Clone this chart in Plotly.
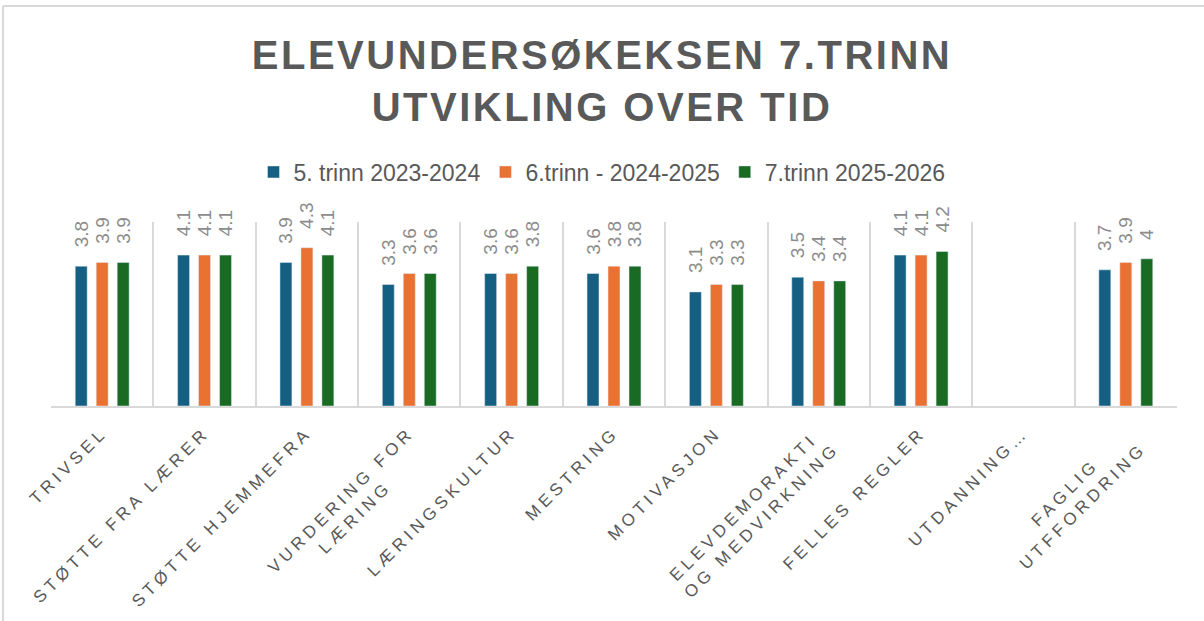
import plotly.graph_objects as go

NB = "\u00a0"
categories = [
    "TRIVSEL", "STØTTE FRA LÆRER", "STØTTE HJEMMEFRA", "VURDERING FOR<br>LÆRING" + NB * 6,
    "LÆRINGSKULTUR", "MESTRING", "MOTIVASJON", "ELEVDEMORAKTI" + NB + "<br>OG MEDVIRKNING",
    "FELLES REGLER", "UTDANNING…", "FAGLIG" + NB * 5 + "<br>UTFFORDRING",
]
series_names = ["5. trinn 2023-2024", "6.trinn - 2024-2025", "7.trinn 2025-2026"]
trinn5 = [3.8, 4.1, 3.9, 3.3, 3.6, 3.6, 3.1, 3.5, 4.1, None, 3.7]
trinn6 = [3.9, 4.1, 4.3, 3.6, 3.6, 3.8, 3.3, 3.4, 4.1, None, 3.9]
trinn7 = [3.9, 4.1, 4.1, 3.6, 3.8, 3.8, 3.3, 3.4, 4.2, None, 4.0]
colors = ["#156082", "#E97132", "#196B24"]

W, H = 1204, 621
ML, MR, MT, MB = 51, 27, 222, 215

fig = go.Figure()
for name, vals, col in zip(series_names, [trinn5, trinn6, trinn7], colors):
    fig.add_trace(go.Bar(
        x=categories, y=vals, name=name, marker_color=col,
        text=[(NB * 3 + f"{v:g}") if v is not None else "" for v in vals],
        textposition="outside", textangle=-90, constraintext="none",
        textfont=dict(family="Liberation Sans", size=19, color="#8c8c8c"),
        cliponaxis=False, hoverinfo="skip",
    ))

pw = W - ML - MR
ph = H - MT - MB
def px_x(x):
    return (x - ML) / pw
def px_y(y):
    return (H - MB - y) / ph

fig.update_layout(
    width=W, height=H,
    margin=dict(l=ML, r=MR, t=MT, b=MB, autoexpand=False),
    paper_bgcolor="white", plot_bgcolor="white",
    barmode="group", bargap=0.385, bargroupgap=0.43,
    title=dict(
        text="ELEVUNDERSØKEKSEN 7.TRINN<br>UTVIKLING OVER TID",
        x=0.5, xref="container", xanchor="center",
        y=1 - 69 / H, yref="container", yanchor="middle",
        font=dict(family="Liberation Sans", size=40, color="#595959", weight="bold"),
    ),
    legend=dict(
        orientation="h", x=0.5, xanchor="center", xref="container",
        y=px_y(172), yanchor="middle",
        font=dict(family="Liberation Sans", size=23, color="#595959"),
        traceorder="normal",
    ),
    xaxis=dict(
        type="category", range=[-0.5, 10.5], tickson="boundaries",
        showgrid=True, gridcolor="#d9d9d9", gridwidth=1.5,
        showline=True, linecolor="#d9d9d9", linewidth=2,
        ticks="", tickangle=-45, automargin=False, ticklabelstandoff=8,
        tickfont=dict(family="Liberation Sans", size=17, color="#595959"),
    ),
    yaxis=dict(range=[0, 5], showgrid=False, showticklabels=False, zeroline=False,
               showline=False, fixedrange=True),
    shapes=[
        dict(type="line", xref="paper", yref="paper",
             x0=px_x(3), x1=px_x(3), y0=px_y(6), y1=px_y(H + 20),
             line=dict(color="#d9d9d9", width=2)),
        dict(type="line", xref="paper", yref="paper",
             x0=px_x(3), x1=px_x(W + 20), y0=px_y(6), y1=px_y(6),
             line=dict(color="#d9d9d9", width=2)),
    ],
)

css = ("body{margin:0;overflow:hidden}"
       ".xtick text{letter-spacing:4.3px}"
       ".gtitle{letter-spacing:2.5px}")
post = ("var s=document.createElement('style');s.textContent=" + repr(css) +
        ";document.head.appendChild(s);")

fig.write_html("out.html", post_script=post, config={"displayModeBar": False})
